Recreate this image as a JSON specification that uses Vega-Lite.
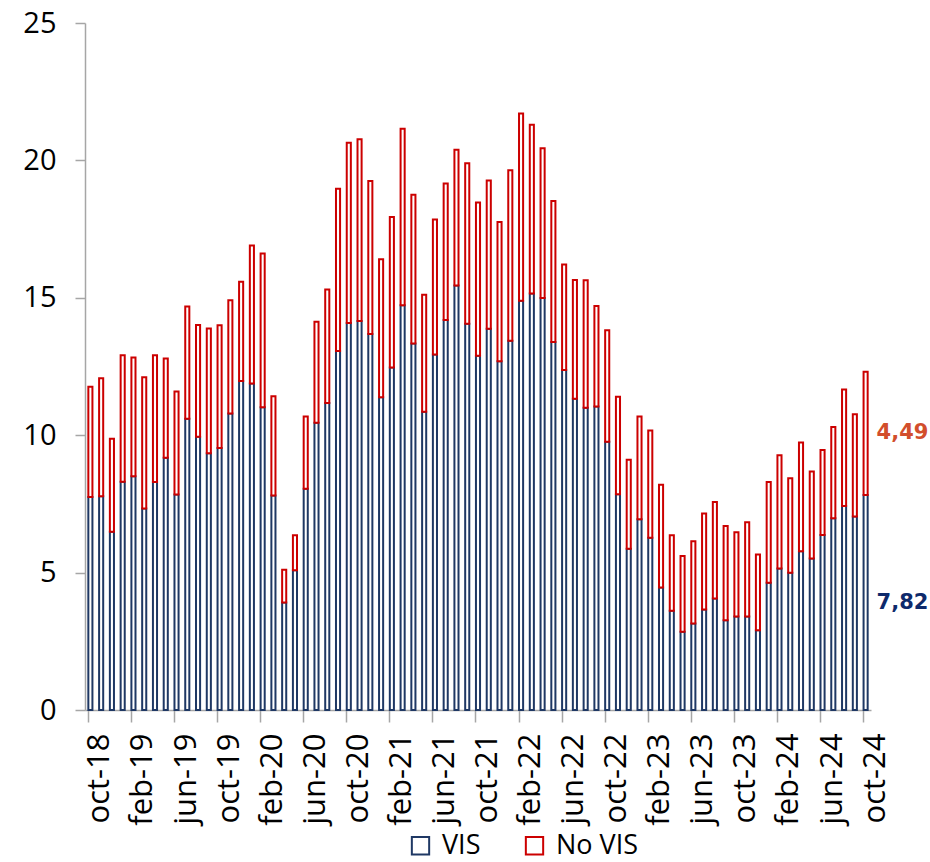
{
 "$schema": "https://vega.github.io/schema/vega-lite/v6.json",
 "width": 786,
 "height": 687,
 "autosize": {"type": "none"},
 "padding": {"left": 85, "top": 23, "right": 59, "bottom": 152},
 "config": {
  "view": {"stroke": null},
  "font": "Open Sans",
  "locale": {"number": {"decimal": ",", "thousands": ".", "grouping": [3], "currency": ["", " €"]}}
 },
 "data": {"values": [
  {"mes":"oct-18","VIS":7.75,"No VIS":4.01},
  {"mes":"nov-18","VIS":7.78,"No VIS":4.29},
  {"mes":"dic-18","VIS":6.49,"No VIS":3.38},
  {"mes":"ene-19","VIS":8.31,"No VIS":4.60},
  {"mes":"feb-19","VIS":8.51,"No VIS":4.32},
  {"mes":"mar-19","VIS":7.33,"No VIS":4.78},
  {"mes":"abr-19","VIS":8.30,"No VIS":4.61},
  {"mes":"may-19","VIS":9.18,"No VIS":3.61},
  {"mes":"jun-19","VIS":7.84,"No VIS":3.75},
  {"mes":"jul-19","VIS":10.60,"No VIS":4.08},
  {"mes":"ago-19","VIS":9.94,"No VIS":4.07},
  {"mes":"sep-19","VIS":9.34,"No VIS":4.54},
  {"mes":"oct-19","VIS":9.53,"No VIS":4.47},
  {"mes":"nov-19","VIS":10.79,"No VIS":4.12},
  {"mes":"dic-19","VIS":11.97,"No VIS":3.61},
  {"mes":"ene-20","VIS":11.88,"No VIS":5.02},
  {"mes":"feb-20","VIS":11.02,"No VIS":5.59},
  {"mes":"mar-20","VIS":7.81,"No VIS":3.61},
  {"mes":"abr-20","VIS":3.91,"No VIS":1.19},
  {"mes":"may-20","VIS":5.09,"No VIS":1.27},
  {"mes":"jun-20","VIS":8.05,"No VIS":2.63},
  {"mes":"jul-20","VIS":10.45,"No VIS":3.68},
  {"mes":"ago-20","VIS":11.17,"No VIS":4.13},
  {"mes":"sep-20","VIS":13.06,"No VIS":5.91},
  {"mes":"oct-20","VIS":14.08,"No VIS":6.56},
  {"mes":"nov-20","VIS":14.16,"No VIS":6.61},
  {"mes":"dic-20","VIS":13.68,"No VIS":5.57},
  {"mes":"ene-21","VIS":11.38,"No VIS":5.02},
  {"mes":"feb-21","VIS":12.46,"No VIS":5.48},
  {"mes":"mar-21","VIS":14.73,"No VIS":6.42},
  {"mes":"abr-21","VIS":13.34,"No VIS":5.41},
  {"mes":"may-21","VIS":10.85,"No VIS":4.26},
  {"mes":"jun-21","VIS":12.94,"No VIS":4.91},
  {"mes":"jul-21","VIS":14.19,"No VIS":4.97},
  {"mes":"ago-21","VIS":15.45,"No VIS":4.94},
  {"mes":"sep-21","VIS":14.06,"No VIS":5.84},
  {"mes":"oct-21","VIS":12.89,"No VIS":5.58},
  {"mes":"nov-21","VIS":13.87,"No VIS":5.40},
  {"mes":"dic-21","VIS":12.69,"No VIS":5.07},
  {"mes":"ene-22","VIS":13.44,"No VIS":6.20},
  {"mes":"feb-22","VIS":14.89,"No VIS":6.82},
  {"mes":"mar-22","VIS":15.16,"No VIS":6.14},
  {"mes":"abr-22","VIS":14.99,"No VIS":5.45},
  {"mes":"may-22","VIS":13.39,"No VIS":5.13},
  {"mes":"jun-22","VIS":12.37,"No VIS":3.84},
  {"mes":"jul-22","VIS":11.33,"No VIS":4.32},
  {"mes":"ago-22","VIS":11.00,"No VIS":4.64},
  {"mes":"sep-22","VIS":11.04,"No VIS":3.66},
  {"mes":"oct-22","VIS":9.76,"No VIS":4.06},
  {"mes":"nov-22","VIS":7.85,"No VIS":3.55},
  {"mes":"dic-22","VIS":5.87,"No VIS":3.24},
  {"mes":"ene-23","VIS":6.94,"No VIS":3.74},
  {"mes":"feb-23","VIS":6.27,"No VIS":3.90},
  {"mes":"mar-23","VIS":4.46,"No VIS":3.74},
  {"mes":"abr-23","VIS":3.61,"No VIS":2.75},
  {"mes":"may-23","VIS":2.85,"No VIS":2.75},
  {"mes":"jun-23","VIS":3.15,"No VIS":2.99},
  {"mes":"jul-23","VIS":3.66,"No VIS":3.49},
  {"mes":"ago-23","VIS":4.06,"No VIS":3.51},
  {"mes":"sep-23","VIS":3.27,"No VIS":3.43},
  {"mes":"oct-23","VIS":3.40,"No VIS":3.07},
  {"mes":"nov-23","VIS":3.40,"No VIS":3.43},
  {"mes":"dic-23","VIS":2.90,"No VIS":2.76},
  {"mes":"ene-24","VIS":4.63,"No VIS":3.67},
  {"mes":"feb-24","VIS":5.15,"No VIS":4.12},
  {"mes":"mar-24","VIS":4.99,"No VIS":3.44},
  {"mes":"abr-24","VIS":5.78,"No VIS":3.95},
  {"mes":"may-24","VIS":5.51,"No VIS":3.17},
  {"mes":"jun-24","VIS":6.37,"No VIS":3.09},
  {"mes":"jul-24","VIS":6.98,"No VIS":3.32},
  {"mes":"ago-24","VIS":7.42,"No VIS":4.24},
  {"mes":"sep-24","VIS":7.04,"No VIS":3.72},
  {"mes":"oct-24","VIS":7.82,"No VIS":4.49}
 ]},
 "transform": [{"fold": ["VIS", "No VIS"], "as": ["serie", "valor"]}],
 "encoding": {
  "x": {
   "field": "mes", "type": "nominal", "sort": null,
   "scale": {"paddingInner": 0.62, "paddingOuter": 0.31},
   "axis": {
    "title": null,
    "values": ["oct-18","feb-19","jun-19","oct-19","feb-20","jun-20","oct-20","feb-21","jun-21","oct-21","feb-22","jun-22","oct-22","feb-23","jun-23","oct-23","feb-24","jun-24","oct-24"],
    "bandPosition": 0,
    "labelAngle": 270,
    "labelOffset": 10,
    "labelFont": "Open Sans",
    "labelFontSize": 31,
    "labelColor": "#000000",
    "labelPadding": 11,
    "tickSize": 12,
    "tickColor": "#a6a6a6",
    "tickWidth": 1.5,
    "domainColor": "#a6a6a6",
    "domainWidth": 1.5,
    "grid": false
   }
  },
  "y": {
   "field": "valor", "type": "quantitative", "stack": "zero",
   "scale": {"domain": [0, 25], "nice": false},
   "axis": {
    "title": null,
    "values": [0, 5, 10, 15, 20, 25],
    "labelFont": "Open Sans",
    "labelFontSize": 29,
    "labelColor": "#000000",
    "labelPadding": 19,
    "tickSize": 10,
    "tickColor": "#a6a6a6",
    "tickWidth": 1.5,
    "domainColor": "#a6a6a6",
    "domainWidth": 1.5,
    "grid": false
   }
  },
  "order": {"field": "serie", "sort": "descending"}
 },
 "layer": [
  {
   "mark": {"type": "bar", "filled": false, "fill": "#ffffff", "strokeWidth": 2},
   "encoding": {
    "stroke": {
     "field": "serie", "type": "nominal",
     "scale": {"domain": ["VIS", "No VIS"], "range": ["#1f3864", "#cc0000"]},
     "legend": {
      "title": null,
      "orient": "none",
      "legendX": 322,
      "legendY": 809,
      "direction": "horizontal",
      "symbolType": "square",
      "symbolSize": 300,
      "symbolStrokeWidth": 2,
      "labelFont": "Open Sans",
      "labelFontSize": 27,
      "labelColor": "#000000",
      "labelOffset": 8,
      "columnPadding": 40,
      "padding": 0
     }
    }
   }
  },
  {
   "transform": [{"filter": "datum.mes === 'oct-24'"}],
   "mark": {"type": "text", "align": "left", "baseline": "middle", "dx": 11, "font": "DejaVu Sans", "fontWeight": "bold", "fontSize": 21},
   "encoding": {
    "y": {"field": "valor", "type": "quantitative", "stack": "zero", "bandPosition": 0.5},
    "detail": {"field": "serie", "type": "nominal"},
    "text": {"field": "valor", "type": "quantitative", "format": ".2f"},
    "color": {"condition": {"test": "datum.serie === 'VIS'", "value": "#0e2a6b"}, "value": "#d24e2c"}
   }
  }
 ]
}
